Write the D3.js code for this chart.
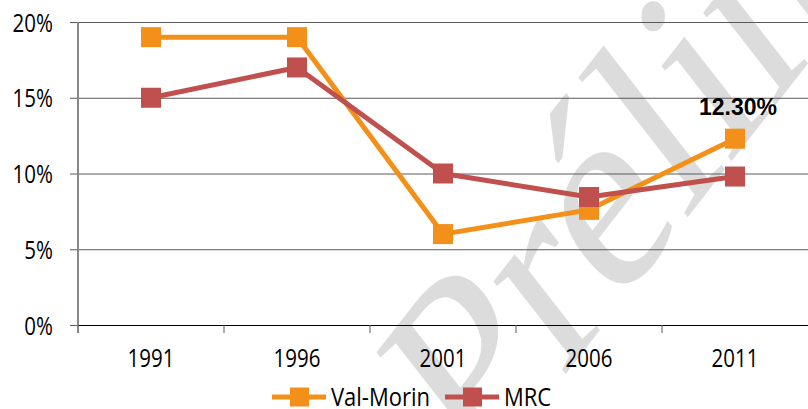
<!DOCTYPE html>
<html>
<head>
<meta charset="utf-8">
<script src="https://cdn.jsdelivr.net/npm/d3@7"></script>
<style>
  body { margin: 0; background: #fff; }
  svg { display: block; }
</style>
</head>
<body>
<svg id="chart" width="808" height="409"></svg>
<script>
var years = ["1991", "1996", "2001", "2006", "2011"]
var valMorin = [19.0, 19.0, 6.0, 7.6, 12.3]
var mrc = [15.0, 17.0, 10.0, 8.45, 9.8]
var yTicks = [0, 5, 10, 15, 20]
var seriesNames = ["Val-Morin", "MRC"]
var seriesColors = ["#F39019", "#C0504D"]

var svg = d3.select("#chart")
var margin = { top: 22, right: 0, bottom: 84, left: 78 }
var width = 808 - margin.left - margin.right
var height = 409 - margin.top - margin.bottom

var font = "'Open Sans', 'DejaVu Sans', sans-serif"
var squeeze = 0.82   // the source picture is narrower than it is tall

// watermark behind everything
svg.append("text")
    .attr("transform", "translate(475,490) scale(0.78,1) rotate(-45)")
    .attr("font-family", "'Liberation Serif', 'DejaVu Serif', serif")
    .attr("font-size", 285)
    .attr("fill", "#dcdcdc")
    .text("Préliminaire")

var g = svg.append("g").attr("transform", "translate(" + margin.left + "," + margin.top + ")")

var x = d3.scaleBand().domain(years).range([0, width])
var y = d3.scaleLinear().domain([0, 20]).range([height, 0])

// gridlines + y labels
g.append("g")
    .call(d3.axisLeft(y).tickValues(yTicks).tickSize(-width).tickPadding(0).tickFormat(d => d + "%"))
    .call(a => a.select(".domain").remove())
    .call(a => a.selectAll(".tick line").attr("stroke", "#5a5a5a").attr("x1", -8))
    .call(a => a.selectAll(".tick text")
        .attr("font-family", font).attr("font-size", 25).attr("fill", "#000")
        .attr("x", 0).attr("dy", "0.36em")
        .attr("transform", "translate(-25,0) scale(" + squeeze + ",1)"))

// vertical axis
g.append("line")
    .attr("x1", 0).attr("x2", 0).attr("y1", 0).attr("y2", height + 8)
    .attr("stroke", "#868686").attr("stroke-width", 2)

// x axis
var xAxis = g.append("g")
    .attr("transform", "translate(0," + height + ")")
    .call(d3.axisBottom(x).tickSize(0).tickPadding(0))
xAxis.select(".domain").attr("stroke", "#000")
xAxis.selectAll(".tick text")
    .attr("font-family", font).attr("font-size", 25).attr("fill", "#000")
    .attr("y", 0).attr("dy", 0)
    .attr("transform", "translate(0,42) scale(" + squeeze + ",1)")
// tick marks between categories
xAxis.selectAll(".sep")
    .data(years.slice(1))
    .enter().append("line")
    .attr("x1", d => x(d)).attr("x2", d => x(d))
    .attr("y1", 0).attr("y2", 8)
    .attr("stroke", "#5a5a5a")

var line = d3.line()
    .x((d, i) => x(years[i]) + x.bandwidth() / 2)
    .y(d => y(d))

var allSeries = [valMorin, mrc]
allSeries.forEach(function (vals, k) {
    g.append("path")
        .datum(vals)
        .attr("d", line)
        .attr("fill", "none")
        .attr("stroke", seriesColors[k])
        .attr("stroke-width", 5)
        .attr("stroke-linejoin", "round")
    g.selectAll(".m" + k)
        .data(vals)
        .enter().append("rect")
        .attr("x", (d, i) => x(years[i]) + x.bandwidth() / 2 - 10)
        .attr("y", d => y(d) - 10)
        .attr("width", 20).attr("height", 20)
        .attr("fill", seriesColors[k])
})

// data label on last Val-Morin point
g.append("text")
    .attr("x", x(years[4]) + x.bandwidth() / 2 + 3)
    .attr("y", y(valMorin[4]) - 24)
    .attr("text-anchor", "middle")
    .attr("font-family", "'Liberation Sans', Arial, sans-serif")
    .attr("font-weight", "bold")
    .attr("font-size", 23)
    .text(valMorin[4].toFixed(2) + "%")

// legend
var legend = svg.append("g").attr("transform", "translate(272,397)")
var legX = [0, 173]
seriesNames.forEach(function (name, k) {
    var lg = legend.append("g").attr("transform", "translate(" + legX[k] + ",0)")
    lg.append("line").attr("x1", 0).attr("x2", 54).attr("y1", 0).attr("y2", 0)
        .attr("stroke", seriesColors[k]).attr("stroke-width", 5)
    lg.append("rect").attr("x", 18).attr("y", -9.5).attr("width", 19).attr("height", 19)
        .attr("fill", seriesColors[k])
    lg.append("text").attr("x", 0).attr("y", 0).attr("dy", 9)
        .attr("font-family", font).attr("font-size", 25)
        .attr("transform", "translate(59,0) scale(0.88,1)")
        .text(name)
})
</script>
</body>
</html>
